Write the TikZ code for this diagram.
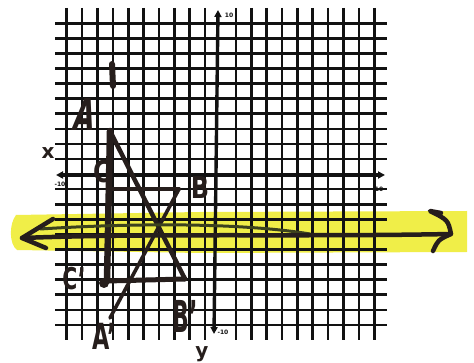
\documentclass[tikz,border=0pt]{standalone}
\usepackage{fontspec}
\setsansfont{DejaVu Sans}
\usetikzlibrary{arrows.meta}
\definecolor{hl}{RGB}{240,238,72}
\definecolor{ink}{RGB}{38,30,28}
\definecolor{gridink}{RGB}{18,18,18}
\definecolor{olive}{RGB}{60,66,30}
\begin{document}
\begin{tikzpicture}[x={(1pt,0)}, y={(0,-1pt)},
  gridline/.style={line width=2.6pt, draw=gridink},
  axisline/.style={line width=3.4pt, draw=gridink, {Triangle[length=7pt,width=7pt]}-{Triangle[length=7pt,width=7pt]}},
  tri/.style={draw=ink, line width=4.5pt, line cap=round, line join=round},
  pen/.style={draw=ink, line width=4.5pt, line cap=round, line join=round},
  lab/.style={text=ink, inner sep=0pt},
  ticklab/.style={text=gridink, inner sep=0pt, font=\sffamily\bfseries\fontsize{6}{6}\selectfont}]
\useasboundingbox (0,0) rectangle (474,363);
\fill[white] (0,0) rectangle (474,363);
% highlighter band
\fill[hl] (16,215) .. controls (9,224) and (9,244) .. (17,250) -- (200,253) -- (467,252) -- (467,211) -- (200,212) -- cycle;
% grid
\foreach \i in {0,...,9,11,12,...,20} {
  \pgfmathsetmacro\xx{66.7+15.38*\i}
  \draw[gridline] (\xx,8) -- (\xx,340);
}
\foreach \j in {0,...,9,11,12,...,20} {
  \pgfmathsetmacro\yy{23.3+15.08*\j}
  \draw[gridline] (55,\yy) -- (387,\yy);
}
% axes
\coordinate (xl) at (56,175);
\coordinate (xr) at (385,175);
\coordinate (yb) at (214,334);
\coordinate (yt) at (218,10);
\draw[axisline] (xl) -- (xr);
\draw[axisline] (yb) -- (yt);
\node[ticklab] (xm10) at (60,184) {-10};
\node[ticklab] (xp10) at (379,189) {10};
\node[ticklab] (yp10) at (229,15) {10};
\node[ticklab] (ym10) at (223,332) {-10};
\node[lab, font=\sffamily\bfseries\fontsize{20}{20}\selectfont] (xlab) at (48,153) {x};
\node[lab, font=\sffamily\bfseries\fontsize{20}{20}\selectfont] (ylab) at (202,354) {y};
% triangles
\coordinate (A) at (110,131);
\coordinate (C) at (110,189);
\coordinate (B) at (179,189);
\coordinate (Cp) at (107,281);
\coordinate (Bp) at (185,279);
\coordinate (Ap) at (110,318);
\draw[tri, line width=6.5pt] (A) -- (Cp);
\draw[tri] (A) -- (Bp);
\draw[tri, line width=4pt] (C) -- (B);
\draw[tri, line width=3.6pt] (B) -- (Ap);
\draw[tri, line width=5pt] (Cp) -- (Bp);
\fill[ink] (104,283) circle (5);
% small mark
\coordinate (m1) at (112,64);
\coordinate (m2) at (113,86);
\draw[tri, line width=6pt] (m1) -- (m2);
% reflection line
\coordinate (Lt) at (22,238);
\coordinate (Rt) at (451,234);
\draw[olive, line width=3pt, line cap=round] (40,229) .. controls (150,222) and (250,224) .. (310,234);
\draw[pen] (Lt) .. controls (150,233) and (300,237) .. (Rt);
\draw[pen] (53,219) -- (Lt) -- (46,248);
\draw[pen] (441,213) -- (430,211) .. controls (448,220) .. (Rt) .. controls (438,240) .. (433,251);
% labels
\node[lab, font=\sffamily\bfseries\fontsize{44}{44}\selectfont, xscale=0.62, xslant=0.3] (lA) at (85,114) {A};
\node[lab, font=\sffamily\bfseries\fontsize{30}{30}\selectfont, xscale=0.8] (lC) at (102,172) {C};
\node[lab, font=\sffamily\bfseries\fontsize{30}{30}\selectfont, xscale=0.8] (lB) at (200,188) {B};
\node[lab, font=\sffamily\bfseries\fontsize{30}{30}\selectfont, xscale=0.68] (lCp) at (74,279) {C'};
\node[lab, font=\sffamily\bfseries\fontsize{36}{36}\selectfont, xscale=0.62] (lAp) at (104,336) {A'};
\node[lab, font=\sffamily\bfseries\fontsize{44}{44}\selectfont, xscale=0.5] (lBp) at (185,316) {B'};
\end{tikzpicture}
\end{document}
